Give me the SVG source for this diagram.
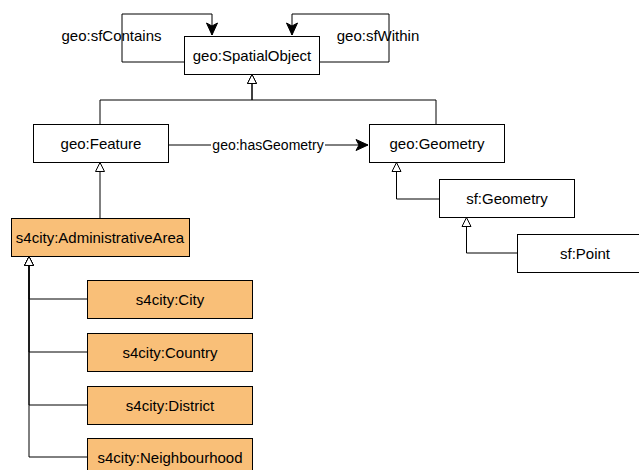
<svg xmlns="http://www.w3.org/2000/svg" width="639" height="470" viewBox="0 0 639 470">
  <style>
    .box { fill: #ffffff; stroke: #000000; stroke-width: 1; }
    .city { fill: #f9bf78; stroke: #000000; stroke-width: 1; }
    .lbl { font-family: "Liberation Sans", Arial, Helvetica, sans-serif; font-size: 15px; fill: #000000; text-anchor: middle; dominant-baseline: central; }
    .elbl { font-size: 14px; }
    .edge { fill: none; stroke: #000000; stroke-width: 1; }
    .sub { marker-end: url(#hollow); }
    .rel { marker-end: url(#filled); }
  </style>
  <defs>
    <marker id="filled" markerUnits="userSpaceOnUse" markerWidth="14" markerHeight="14" viewBox="-13 -7 14 14" refX="0" refY="0" orient="auto" overflow="visible">
      <path d="M0,0 L-12,-5.5 L-9,0 L-12,5.5 Z" fill="#000000" stroke="#000000" stroke-width="1"/>
    </marker>
    <marker id="hollow" markerUnits="userSpaceOnUse" markerWidth="14" markerHeight="14" viewBox="-12 -7 14 14" refX="0" refY="0" orient="auto" overflow="visible">
      <path d="M0,0 L-9,-4.5 L-9,4.5 Z" fill="#ffffff" stroke="#000000" stroke-width="1"/>
    </marker>
  </defs>

  <g id="connectors">
    <!-- self relations on SpatialObject -->
    <path class="edge rel" d="M184,62 H122 V14 H212 V35"/>
    <path class="edge rel" d="M319,62 H389 V14 H292 V35"/>
    <!-- subclass links -->
    <path class="edge sub" d="M100,124 V100 H252 V74.5"/>
    <path class="edge sub" d="M436,124 V100 H252 V74.5"/>
    <path class="edge sub" d="M100,218 V162.5"/>
    <path class="edge sub" d="M439,199 H396.5 V162.5"/>
    <path class="edge sub" d="M517,253 H466.5 V217.5"/>
    <path class="edge sub" d="M87,299 H29 V256.5" stroke-width="1.4"/>
    <path class="edge sub" d="M87,352 H29 V256.5" stroke-width="1.4"/>
    <path class="edge sub" d="M87,405 H29 V256.5" stroke-width="1.4"/>
    <path class="edge sub" d="M87,457 H29 V256.5" stroke-width="1.4"/>
    <!-- hasGeometry -->
    <path class="edge rel" d="M168,145 H368"/>
    <rect x="211" y="137" width="114" height="16" fill="#ffffff"/>
    <text class="lbl elbl" x="268" y="144.5">geo:hasGeometry</text>
    <text class="lbl" x="111.5" y="35">geo:sfContains</text>
    <text class="lbl" x="378" y="35">geo:sfWithin</text>
  </g>

  <g id="spatialObject">
    <rect class="box" x="184.5" y="36.5" width="135" height="38"/>
    <text class="lbl" x="252" y="55.5">geo:SpatialObject</text>
  </g>
  <g id="feature">
    <rect class="box" x="33.5" y="124.5" width="135" height="38"/>
    <text class="lbl" x="101" y="143.5">geo:Feature</text>
  </g>
  <g id="geometry">
    <rect class="box" x="369.5" y="124.5" width="135" height="38"/>
    <text class="lbl" x="437" y="143.5">geo:Geometry</text>
  </g>
  <g id="sfGeometry">
    <rect class="box" x="439.5" y="179.5" width="135" height="38"/>
    <text class="lbl" x="507" y="198.5">sf:Geometry</text>
  </g>
  <g id="sfPoint">
    <rect class="box" x="517.5" y="234.5" width="135" height="38"/>
    <text class="lbl" x="585" y="253.5">sf:Point</text>
  </g>
  <g id="administrativeArea">
    <rect class="city" x="11.5" y="218.5" width="178" height="38"/>
    <text class="lbl" x="100" y="237">s4city:AdministrativeArea</text>
  </g>
  <g id="city">
    <rect class="city" x="87.5" y="280.5" width="165" height="38"/>
    <text class="lbl" x="170" y="299.5">s4city:City</text>
  </g>
  <g id="country">
    <rect class="city" x="87.5" y="333.5" width="165" height="38"/>
    <text class="lbl" x="170" y="352.5">s4city:Country</text>
  </g>
  <g id="district">
    <rect class="city" x="87.5" y="386.5" width="165" height="38"/>
    <text class="lbl" x="170" y="405.5">s4city:District</text>
  </g>
  <g id="neighbourhood">
    <rect class="city" x="87.5" y="438.5" width="165" height="38"/>
    <text class="lbl" x="170" y="457.5">s4city:Neighbourhood</text>
  </g>
</svg>
